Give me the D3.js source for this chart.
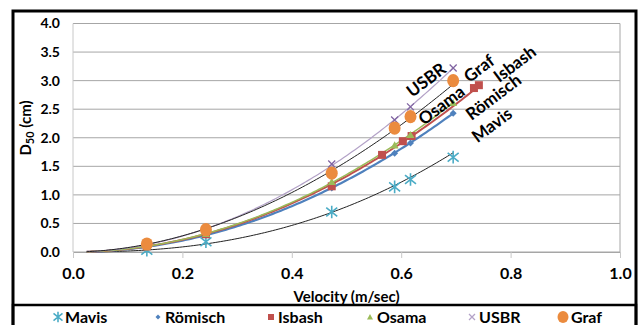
<!DOCTYPE html>
<html>
<head>
<meta charset="utf-8">
<script src="https://cdnjs.cloudflare.com/ajax/libs/d3/7.8.5/d3.min.js"></script>
<style>
  body { margin: 0; background: #fff; }
  text { font-family: Lato, "Open Sans", sans-serif; font-weight: bold; fill: #000; }
</style>
</head>
<body>
<svg id="chart" width="643" height="325"></svg>
<script>
// --- values ---
const velocity = [0.135, 0.243, 0.473, 0.588, 0.617, 0.695];
const velocityIsbash = [0.135, 0.243, 0.473, 0.565, 0.603, 0.619, 0.733, 0.742];
const mavis = [0.03, 0.18, 0.70, 1.14, 1.27, 1.66];
const romisch = [0.09, 0.30, 1.12, 1.73, 1.91, 2.43];
const isbash = [0.10, 0.31, 1.15, 1.70, 1.94, 2.03, 2.87, 2.92];
const osama = [0.10, 0.32, 1.23, 1.87, 2.05, 2.61];
const usbr = [0.13, 0.40, 1.54, 2.31, 2.54, 3.22];
const graf = [0.14, 0.39, 1.38, 2.17, 2.37, 3.00];

const xTicks = [0, 0.2, 0.4, 0.6, 0.8, 1.0];
const yTicks = [0, 0.5, 1.0, 1.5, 2.0, 2.5, 3.0, 3.5, 4.0];

// series setup (style only)
const series = [
  { name: 'Mavis',   xs: velocity,       ys: mavis,   color: '#4bacc6', line: '#222', lw: 1,   marker: 'asterisk' },
  { name: 'Römisch', xs: velocity,       ys: romisch, color: '#4f81bd', line: '#4f81bd', lw: 2.2, marker: 'diamond' },
  { name: 'Isbash',  xs: velocityIsbash, ys: isbash,  color: '#c0504d', line: '#c0504d', lw: 2, marker: 'square' },
  { name: 'Osama',   xs: velocity,       ys: osama,   color: '#9bbb59', line: '#9bbb59', lw: 1.5, marker: 'triangle' },
  { name: 'USBR',    xs: velocity,       ys: usbr,    color: '#8064a2', line: '#b3a2c7', lw: 1.2, marker: 'cross' },
  { name: 'Graf',    xs: velocity,       ys: graf,    color: '#eb8b3e', line: '#222', lw: 1, marker: 'circle' }
];

// in-plot labels, in data coordinates
const labels = [
  { text: 'USBR',    x: 0.645, y: 3.02 },
  { text: 'Graf',    x: 0.742, y: 3.22 },
  { text: 'Isbash',  x: 0.807, y: 3.30 },
  { text: 'Osama',   x: 0.673, y: 2.58 },
  { text: 'Römisch', x: 0.768, y: 2.72 },
  { text: 'Mavis',   x: 0.765, y: 2.23 }
];

const svg = d3.select('#chart');
const plot = { left: 73, right: 620, top: 23.5, bottom: 252 };

const x = d3.scaleLinear().domain([0, 1]).range([plot.left, plot.right]);
const y = d3.scaleLinear().domain([0, 4]).range([plot.bottom, plot.top]);

// gridlines
svg.append('g').selectAll('line')
  .data(yTicks)
  .enter().append('line')
  .attr('x1', plot.left).attr('x2', plot.right)
  .attr('y1', d => y(d)).attr('y2', d => y(d))
  .attr('stroke', '#a6a6a6').attr('stroke-width', 1);

// plot area sides
svg.append('line').attr('x1', plot.left).attr('x2', plot.left)
  .attr('y1', plot.top).attr('y2', plot.bottom).attr('stroke', '#c8c8c8');
svg.append('line').attr('x1', plot.right).attr('x2', plot.right)
  .attr('y1', plot.top).attr('y2', plot.bottom).attr('stroke', '#a6a6a6');

// x axis
const xAxis = d3.axisBottom(x).tickValues(xTicks).tickFormat(d3.format('.1f')).tickSize(6).tickSizeOuter(0);
const gx = svg.append('g').attr('transform', `translate(0,${plot.bottom})`).call(xAxis);
gx.select('.domain').attr('stroke', '#a6a6a6');
gx.selectAll('.tick line').attr('stroke', '#c8c8c8');
gx.selectAll('.tick text').attr('font-size', 16).attr('dy', '1.15em').attr('font-family', 'Lato');

// y axis labels
const yAxis = d3.axisLeft(y).tickValues(yTicks).tickFormat(d3.format('.1f')).tickSize(0);
const gy = svg.append('g').attr('transform', `translate(${plot.left},0)`).call(yAxis);
gy.select('.domain').remove();
gy.selectAll('.tick text').attr('font-size', 14).attr('x', -13).attr('font-family', 'Lato');

// power trendlines (least squares in log space, like the spreadsheet)
function powerFit(xs, ys) {
  const lx = xs.map(Math.log), ly = ys.map(Math.log);
  const mx = d3.mean(lx), my = d3.mean(ly);
  const b = d3.sum(lx, (v, i) => (v - mx) * (ly[i] - my)) / d3.sum(lx, v => (v - mx) * (v - mx));
  const a = Math.exp(my - b * mx);
  return v => a * Math.pow(v, b);
}

const line = d3.line().x(d => x(d[0])).y(d => y(d[1])).curve(d3.curveLinear);

series.forEach(s => {
  const f = powerFit(s.xs, s.ys);
  const xmax = d3.max(s.xs);
  const pts = d3.range(0.025, xmax, 0.005).concat([xmax]).map(v => [v, f(v)]);
  svg.append('path')
    .attr('d', line(pts))
    .attr('fill', 'none')
    .attr('stroke', s.line)
    .attr('stroke-width', s.lw);
});

// markers
function drawMarker(g, type, color, size) {
  const h = size / 2;
  if (type === 'asterisk') {
    g.append('path').attr('d', `M0,${-h * 1.15}V${h * 1.15}M${-h},${-h * 0.8}L${h},${h * 0.8}M${-h},${h * 0.8}L${h},${-h * 0.8}`)
      .attr('stroke', color).attr('stroke-width', 1.6).attr('fill', 'none');
  } else if (type === 'diamond') {
    g.append('path').attr('d', `M0,${-h}L${h},0L0,${h}L${-h},0Z`).attr('fill', color);
  } else if (type === 'square') {
    g.append('rect').attr('x', -h).attr('y', -h).attr('width', size).attr('height', size).attr('fill', color);
  } else if (type === 'triangle') {
    g.append('path').attr('d', `M0,${-h}L${h},${h * 0.8}L${-h},${h * 0.8}Z`).attr('fill', color);
  } else if (type === 'cross') {
    g.append('path').attr('d', `M${-h},${-h}L${h},${h}M${-h},${h}L${h},${-h}`)
      .attr('stroke', color).attr('stroke-width', 1.3).attr('fill', 'none');
  } else if (type === 'circle') {
    g.append('ellipse').attr('rx', h).attr('ry', h * 1.1).attr('fill', color);
  }
}

const markerSize = { asterisk: 11, diamond: 7, square: 8, triangle: 8, cross: 7, circle: 12 };

series.forEach(s => {
  s.xs.forEach((v, i) => {
    const g = svg.append('g').attr('transform', `translate(${x(v)},${y(s.ys[i])})`);
    drawMarker(g, s.marker, s.color, markerSize[s.marker]);
  });
});

// in-plot series labels
svg.append('g').selectAll('text')
  .data(labels)
  .enter().append('text')
  .attr('transform', d => `translate(${x(d.x)},${y(d.y)}) rotate(-37)`)
  .attr('text-anchor', 'middle')
  .attr('dominant-baseline', 'central')
  .attr('font-size', 17)
  .text(d => d.text);

// axis titles
svg.append('text')
  .attr('x', (plot.left + plot.right) / 2).attr('y', 302)
  .attr('text-anchor', 'middle').attr('font-size', 15)
  .text('Velocity  (m/sec)');

const yt = svg.append('text')
  .attr('transform', 'translate(31,128) rotate(-90)')
  .attr('text-anchor', 'middle').attr('font-size', 15);
yt.append('tspan').text('D');
yt.append('tspan').attr('font-size', 11).attr('dy', 3).text('50');
yt.append('tspan').attr('dy', -3).text('  (cm)');

// legend box
svg.append('rect').attr('x', 13).attr('y', 305).attr('width', 623).attr('height', 30)
  .attr('fill', '#fff').attr('stroke', '#000').attr('stroke-width', 2.5);

const legendX = [58, 158, 271, 370, 472, 563];
series.forEach((s, i) => {
  const g = svg.append('g').attr('transform', `translate(${legendX[i]},317)`);
  const small = { asterisk: 9, diamond: 5, square: 6, triangle: 6, cross: 6, circle: 11 };
  drawMarker(g, s.marker, s.marker === 'cross' ? '#b3a2c7' : s.color, small[s.marker]);
  g.append('text').attr('x', s.marker === 'circle' ? 8 : 7).attr('y', 6)
    .attr('font-size', 16).text(s.name);
});

// outer frame
svg.append('rect').attr('x', 13).attr('y', 11).attr('width', 623).attr('height', 330)
  .attr('fill', 'none').attr('stroke', '#000').attr('stroke-width', 3);
</script>
</body>
</html>
